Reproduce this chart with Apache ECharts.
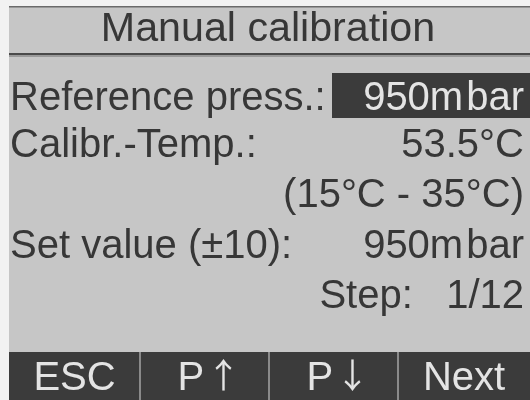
<!DOCTYPE html>
<html><head><meta charset="utf-8">
<script src="https://cdn.jsdelivr.net/npm/echarts@6/dist/echarts.min.js"></script>
<style>html,body{margin:0;padding:0;background:#fff}#c{width:530px;height:400px}</style>
</head><body><div id="c"></div>
<script>
const title = 'Manual calibration';
const rowLabels = ['Reference press.:', 'Calibr.-Temp.:', '', 'Set value (\u00b110):', ''];
const rowValues = ['950mbar', '53.5\u00b0C', '(15\u00b0C - 35\u00b0C)', '950mbar', 'Step:   1/12'];
const highlightRow = 0;
const footerKeys = ['ESC', 'P \u2191', 'P \u2193', 'Next'];

const W = 530, H = 400;
const FONT = '"Liberation Sans", Arial, sans-serif';
const TXT = '#373737', BG = '#c6c6c6', DARK = '#3b3b3b', LIGHT = '#e4e4e4';
const rowY = [99, 146, 196, 247, 297];
const footTop = 352;
const footDiv = [9, 140, 269, 398, 530];

function valueText(v) {
  const m = v.match(/^(.*m)(bar)$/);
  if (m) return '{n|' + m[1] + '}{u|' + m[2] + '}';
  return '{n|' + v + '}';
}

const g = [];
g.push({type:'rect', shape:{x:0,y:0,width:W,height:H}, style:{fill:'#f2f2f2'}, silent:true});
g.push({type:'rect', shape:{x:9,y:6,width:W-9,height:H-6}, style:{fill:BG}, silent:true});
g.push({type:'rect', shape:{x:9,y:6,width:W-9,height:1.5}, style:{fill:'#6a6a6a'}, silent:true});
g.push({type:'rect', shape:{x:9,y:53,width:W-9,height:2}, style:{fill:'#4a4a4a'}, silent:true});
g.push({type:'rect', shape:{x:9,y:55,width:W-9,height:2}, style:{fill:'#9a9a9a'}, silent:true});
g.push({type:'text', x:268, y:30, scaleX:1.03, style:{text:title, font:'40px '+FONT, fill:TXT, align:'center', verticalAlign:'middle'}, silent:true});

rowLabels.forEach((t, i) => {
  if (i === highlightRow) {
    g.push({type:'rect', shape:{x:332,y:73,width:W-332,height:45}, style:{fill:DARK}, silent:true});
  }
  if (t) g.push({type:'text', x:10, y:rowY[i], style:{text:t, font:'40px '+FONT, fill:TXT, align:'left', verticalAlign:'middle'}, silent:true});
  if (rowValues[i]) {
    const col = i === highlightRow ? LIGHT : TXT;
    g.push({type:'text', x:524, y:rowY[i], style:{
      text: valueText(rowValues[i]), align:'right', verticalAlign:'middle',
      rich:{
        n:{font:'40px '+FONT, fill:col},
        u:{font:'40px '+FONT, fill:col, padding:[0,0,0,3]}
      }}, silent:true});
  }
});

g.push({type:'rect', shape:{x:9,y:footTop,width:W-9,height:H-footTop}, style:{fill:DARK}, silent:true});
for (let k = 1; k < footDiv.length - 1; k++) {
  g.push({type:'rect', shape:{x:footDiv[k]-1,y:footTop,width:2,height:H-footTop}, style:{fill:'#8a8a8a'}, silent:true});
}
footerKeys.forEach((t, k) => {
  const cx = (footDiv[k]+footDiv[k+1])/2;
  const parts = t.split(' ');
  if (parts.length === 2) {
    g.push({type:'text', x:cx-27, y:379, style:{text:parts[0], font:'40px '+FONT, fill:LIGHT, align:'left', verticalAlign:'middle'}, silent:true});
    g.push({type:'text', x:cx+19, y:375, style:{text:parts[1], font:'34px "Noto Sans CJK SC", "DejaVu Sans", sans-serif', fill:LIGHT, align:'center', verticalAlign:'middle'}, silent:true});
  } else {
    g.push({type:'text', x:cx, y:379, style:{text:t, font:'40px '+FONT, fill:LIGHT, align:'center', verticalAlign:'middle'}, silent:true});
  }
});

const chart = echarts.init(document.getElementById('c'), null, {renderer:'canvas'});
chart.setOption({animation:false, graphic:{elements:g}});
</script></body></html>
